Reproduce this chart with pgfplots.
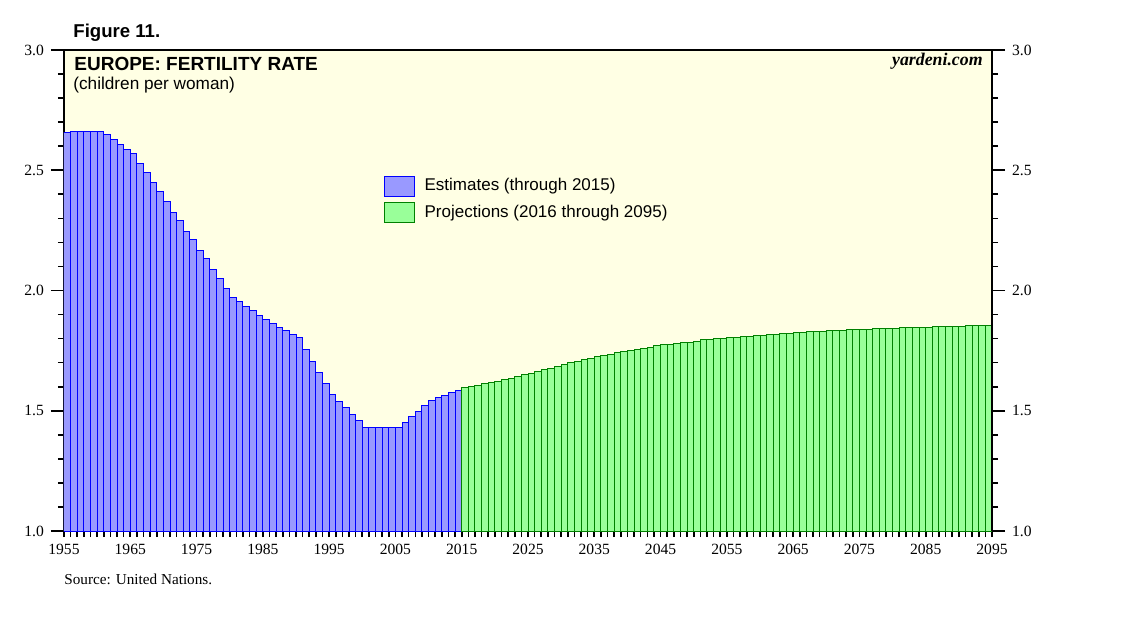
\documentclass[border=0pt]{standalone}
\usepackage{pgfplots}
\pgfplotsset{compat=1.18}
\usepackage{pgfplotstable}
\usepackage{fontspec}
\setmainfont{Liberation Serif}
\newfontfamily\arial{Liberation Sans}

\definecolor{bgyellow}{RGB}{255,255,228}
\definecolor{estfill}{RGB}{153,153,255}
\definecolor{estline}{RGB}{0,0,255}
\definecolor{projfill}{RGB}{153,255,153}
\definecolor{projline}{RGB}{0,128,0}

% estimates, one bar per year (last row only closes the interval)
\pgfplotstableread{
year rate
1955 2.658
1956 2.662
1957 2.662
1958 2.662
1959 2.662
1960 2.662
1961 2.647
1962 2.626
1963 2.609
1964 2.587
1965 2.570
1966 2.529
1967 2.489
1968 2.447
1969 2.410
1970 2.368
1971 2.326
1972 2.289
1973 2.247
1974 2.210
1975 2.168
1976 2.131
1977 2.089
1978 2.051
1979 2.009
1980 1.972
1981 1.955
1982 1.934
1983 1.918
1984 1.897
1985 1.880
1986 1.864
1987 1.847
1988 1.834
1989 1.818
1990 1.805
1991 1.755
1992 1.706
1993 1.660
1994 1.614
1995 1.568
1996 1.539
1997 1.514
1998 1.485
1999 1.460
2000 1.431
2001 1.431
2002 1.431
2003 1.431
2004 1.431
2005 1.431
2006 1.452
2007 1.477
2008 1.498
2009 1.523
2010 1.543
2011 1.556
2012 1.564
2013 1.577
2014 1.585
2015 1.585
}\estimates

% projections
\pgfplotstableread{
year rate
2015 1.597
2016 1.602
2017 1.606
2018 1.614
2019 1.618
2020 1.622
2021 1.631
2022 1.635
2023 1.643
2024 1.652
2025 1.656
2026 1.664
2027 1.672
2028 1.677
2029 1.685
2030 1.693
2031 1.701
2032 1.706
2033 1.714
2034 1.718
2035 1.726
2036 1.731
2037 1.735
2038 1.743
2039 1.747
2040 1.751
2041 1.755
2042 1.760
2043 1.764
2044 1.772
2045 1.776
2046 1.776
2047 1.780
2048 1.784
2049 1.784
2050 1.789
2051 1.797
2052 1.797
2053 1.801
2054 1.801
2055 1.805
2056 1.805
2057 1.809
2058 1.809
2059 1.814
2060 1.814
2061 1.818
2062 1.818
2063 1.822
2064 1.822
2065 1.826
2066 1.826
2067 1.830
2068 1.830
2069 1.830
2070 1.834
2071 1.834
2072 1.834
2073 1.838
2074 1.838
2075 1.838
2076 1.838
2077 1.843
2078 1.843
2079 1.843
2080 1.843
2081 1.847
2082 1.847
2083 1.847
2084 1.847
2085 1.847
2086 1.851
2087 1.851
2088 1.851
2089 1.851
2090 1.851
2091 1.855
2092 1.855
2093 1.855
2094 1.855
2095 1.855
}\projections

\pgfplotsset{
  yardeni/.style={
    scale only axis,
    width=464pt, height=240.5pt,
    xmin=1955, xmax=2095,
    ymin=1, ymax=3,
    ytick={1,1.5,...,3},
    minor y tick num=4,
    tick align=outside,
    major tick length=6.5pt,
    minor tick length=3pt,
    tick style={line width=0.8pt, black},
    axis line style={line width=1.4pt},
    /pgf/number format/assume math mode=true,
    ticklabel style={font=\fontsize{7.8}{9}\selectfont},
    yticklabel style={/pgf/number format/.cd, fixed, fixed zerofill, precision=1},
  }
}

\begin{document}
\begin{tikzpicture}
\path[use as bounding box] (-32pt,-45pt) rectangle (537pt,265.5pt);

\begin{axis}[
  yardeni,
  axis background/.style={fill=bgyellow},
  ytick pos=left,
  xtick={1955,1965,...,2095},
  minor xtick={1955,1956,...,2095},
  xtick pos=bottom,
  major x tick style={draw=none},
  xticklabel style={/pgf/number format/1000 sep={}, yshift=3.5pt},
  legend style={at={(rel axis cs:0.344,0.742)}, anchor=north west,
    draw=none, fill=none, inner sep=0pt, row sep=1.5pt,
    font=\arial\fontsize{8.5}{10}\selectfont,
    /tikz/every odd column/.append style={column sep=3pt}},
  legend cell align=left,
  legend image code/.code={\draw[#1,line width=0.5pt] (0pt,-5pt) rectangle (15pt,5pt);},
]
\addplot[ybar interval, fill=estfill, draw=estline, line width=0.5pt] table[x=year, y=rate] {\estimates};
\addlegendentry{Estimates (through 2015)}
\addplot[ybar interval, fill=projfill, draw=projline, line width=0.5pt] table[x=year, y=rate] {\projections};
\addlegendentry{Projections (2016 through 2095)}
\end{axis}

\begin{axis}[
  yardeni,
  axis x line=none,
  axis y line*=right,
  ytick pos=right,
  yticklabel pos=right,
]
\end{axis}

\node[anchor=base west, inner sep=0pt, font=\arial\bfseries\fontsize{9.3}{11}\selectfont] at (4.5pt,246.5pt) {Figure 11.};
\node[anchor=base west, inner sep=0pt, font=\arial\bfseries\fontsize{9.5}{11}\selectfont] at (5pt,230pt) {EUROPE: FERTILITY RATE};
\node[anchor=base west, inner sep=0pt, font=\arial\fontsize{8.6}{10}\selectfont] at (4.5pt,220.5pt) {(children per woman)};
\node[anchor=base east, inner sep=0pt, font=\bfseries\itshape\fontsize{8.9}{10}\selectfont] at (459.5pt,232.5pt) {yardeni.com};
\node[anchor=base west, inner sep=0pt, font=\fontsize{7.6}{9}\selectfont] at (0pt,-26.5pt) {Source: United Nations.};
\end{tikzpicture}
\end{document}
